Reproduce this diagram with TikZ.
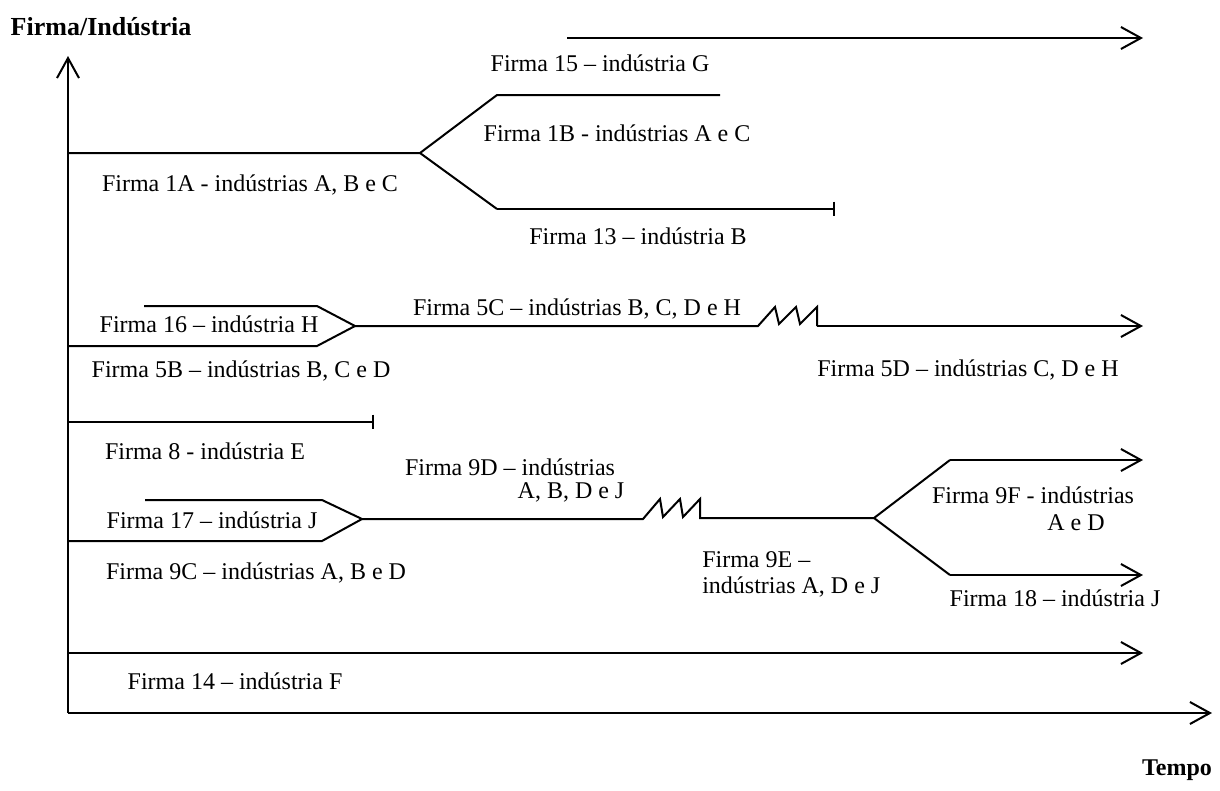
\documentclass[tikz,border=0pt]{standalone}
\usepackage{fontspec}
\setmainfont{Liberation Serif}
\usetikzlibrary{arrows.meta}
\begin{document}
\begin{tikzpicture}[x=0.75pt,y=-0.75pt,
  line/.style={line width=1.5pt,line join=miter},
  fwd/.style={line,-{Straight Barb[length=15pt,width=16.5pt,line width=1.5pt]}},
  stopbar/.style={line,-{Bar[width=11pt,line width=1.5pt]}},
  lbl/.style={inner sep=0pt,font=\fontsize{18}{21}\selectfont},
  axlbl/.style={inner sep=0pt,font=\fontsize{19.5}{22}\selectfont\bfseries}]
\useasboundingbox (0,0) rectangle (1220,790);

% axes
\coordinate (O) at (68,713);
\coordinate (ytop) at (68,56);
\coordinate (xend) at (1212,713);
\draw[fwd] (O) -- (ytop);
\draw[fwd] (O) -- (xend);
\node[axlbl] (ylab) at (101,27) {Firma/Indústria};
\node[axlbl,font=\fontsize{18}{21}\selectfont\bfseries] (xlab) at (1177,770) {Tempo};

% Firma 15
\coordinate (f15a) at (567,38);
\coordinate (f15b) at (1143,38);
\draw[fwd] (f15a) -- (f15b);
\node[lbl] (t15) at (600,63) {Firma 15 – indústria G};

% Firma 1A splitting into 1B and 13
\coordinate (f1a) at (68,153);
\coordinate (s1) at (420,153);
\coordinate (b1u) at (497,95);
\coordinate (b1e) at (720,95);
\coordinate (b13) at (497,209);
\coordinate (b13e) at (835,209);
\draw[line] (f1a) -- (s1) -- (b1u) -- (b1e);
\draw[line] (s1) -- (b13);
\draw[stopbar] (b13) -- (b13e);
\node[lbl] (t1a) at (250,185) {Firma 1A - indústrias A, B e C};
\node[lbl] (t1b) at (617,133) {Firma 1B - indústrias A e C};
\node[lbl] (t13) at (638,236) {Firma 13 – indústria B};

% Firma 16 and 5B merging into 5C, then 5D
\coordinate (f16a) at (144,306);
\coordinate (f16b) at (317,306);
\coordinate (m5) at (355,326);
\coordinate (f5b) at (68,346);
\coordinate (f5bb) at (317,346);
\coordinate (z5) at (758,326);
\coordinate (z5e) at (817,326);
\coordinate (f5d) at (1143,326);
\draw[line] (f16a) -- (f16b) -- (m5) -- (f5bb) -- (f5b);
\draw[line] (m5) -- (z5) -- (775,307) -- (779,324) -- (796,307) -- (800,324)
  -- (817,307) -- (z5e);
\draw[fwd] (z5e) -- (f5d);
\node[lbl] (t16) at (209,324) {Firma 16 – indústria H};
\node[lbl] (t5b) at (241,371) {Firma 5B – indústrias B, C e D};
\node[lbl] (t5c) at (577,309) {Firma 5C – indústrias B, C, D e H};
\node[lbl] (t5d) at (968,370) {Firma 5D – indústrias C, D e H};

% Firma 8
\coordinate (f8a) at (68,422);
\coordinate (f8b) at (374,422);
\draw[stopbar] (f8a) -- (f8b);
\node[lbl] (t8) at (205,451) {Firma 8 - indústria E};

% Firma 17 and 9C merging into 9D, then 9E splitting into 9F and 18
\coordinate (f17a) at (145,500);
\coordinate (f17b) at (322,500);
\coordinate (m9) at (362,519);
\coordinate (f9c) at (68,541);
\coordinate (f9cb) at (322,541);
\coordinate (z9) at (643,519);
\coordinate (z9e) at (700,518);
\coordinate (s9) at (874,518);
\coordinate (b9f) at (950,460);
\coordinate (b9fe) at (1143,460);
\coordinate (b18) at (950,575);
\coordinate (b18e) at (1143,575);
\draw[line] (f17a) -- (f17b) -- (m9) -- (f9cb) -- (f9c);
\draw[line] (m9) -- (z9) -- (660,499) -- (663,517) -- (680,499) -- (683,517)
  -- (700,499) -- (z9e) -- (s9);
\draw[line] (s9) -- (b9f);
\draw[fwd] (b9f) -- (b9fe);
\draw[line] (s9) -- (b18);
\draw[fwd] (b18) -- (b18e);
\node[lbl] (t17) at (212,520) {Firma 17 – indústria J};
\node[lbl] (t9c) at (256,573) {Firma 9C – indústrias A, B e D};
\node[lbl] (t9d) at (510,467) {Firma 9D – indústrias};
\node[lbl] (t9d2) at (571,492) {A, B, D e J};
\node[lbl,anchor=west] (t9e) at (702,560) {Firma 9E –};
\node[lbl,anchor=west] (t9e2) at (702,587) {indústrias A, D e J};
\node[lbl] (t9f) at (1033,495) {Firma 9F - indústrias};
\node[lbl] (t9f2) at (1076,523) {A e D};
\node[lbl] (t18) at (1055,598) {Firma 18 – indústria J};

% Firma 14
\coordinate (f14a) at (68,653);
\coordinate (f14b) at (1143,653);
\draw[fwd] (f14a) -- (f14b);
\node[lbl] (t14) at (235,681) {Firma 14 – indústria F};
\end{tikzpicture}
\end{document}
